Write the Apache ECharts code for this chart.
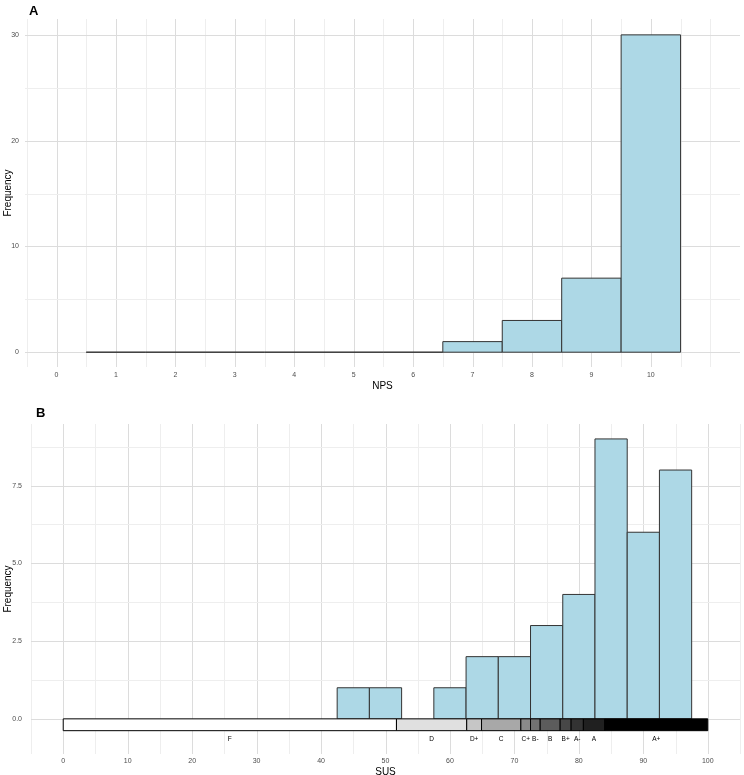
<!DOCTYPE html>
<html>
<head>
<meta charset="utf-8">
<script src="https://cdn.jsdelivr.net/npm/echarts@6/dist/echarts.min.js"></script>
<style>
  html, body { margin: 0; padding: 0; background: #fff; }
  #chart { width: 744px; height: 775px; }
</style>
</head>
<body>
<div id="chart"></div>
<script>
// Panel A: NPS histogram (bins centred on integer scores)
const npsScores = [1, 2, 3, 4, 5, 6, 7, 8, 9, 10];
const npsCounts = [0, 0, 0, 0, 0, 0, 1, 3, 7, 30];
const npsTicks = [0, 1, 2, 3, 4, 5, 6, 7, 8, 9, 10];
const npsFreqTicks = [0, 10, 20, 30];

// Panel B: SUS histogram (bin width 5)
const susBinStart = [42.5, 47.5, 57.5, 62.5, 67.5, 72.5, 77.5, 82.5, 87.5, 92.5];
const susCounts = [1, 1, 1, 2, 2, 3, 4, 9, 6, 8];
const susTicks = [0, 10, 20, 30, 40, 50, 60, 70, 80, 90, 100];
const susFreqTicks = [0, 2.5, 5, 7.5];

// SUS grading scale under the histogram
const gradeLabels = ["F", "D", "D+", "C", "C+", "B-", "B", "B+", "A-", "A", "A+"];
const gradeFrom = [0, 51.7, 62.6, 64.9, 71.0, 72.5, 74.0, 77.1, 78.8, 80.7, 84.0];
const gradeTo = [51.7, 62.6, 64.9, 71.0, 72.5, 74.0, 77.1, 78.8, 80.7, 84.0, 100];

const gradeShades = ["#ffffff", "#e0e0e0", "#c6c6c6", "#a8a8a8", "#8a8a8a", "#727272",
  "#5c5c5c", "#474747", "#333333", "#202020", "#000000"];

const FONT = "Liberation Sans, Arial, sans-serif";
const BAR_FILL = "#add8e6";
const BAR_EDGE = "#333333";

const chart = echarts.init(document.getElementById("chart"));

// gridline helpers: major lines at the ticks, minor lines halfway between
function withMinor(ticks, step, lo, hi) {
  const out = [];
  for (let v = lo; v <= hi + 1e-9; v += step / 2) {
    const major = ticks.some((t) => Math.abs(t - v) < 1e-9);
    out.push([Math.round(v * 1000) / 1000, major ? 1 : 0]);
  }
  return out;
}

function gridSeries(idx, dir, data) {
  return {
    type: "custom",
    xAxisIndex: idx,
    yAxisIndex: idx,
    silent: true,
    z: 1,
    data: data,
    renderItem: function (params, api) {
      const cs = params.coordSys;
      const v = api.value(0);
      const major = api.value(1) === 1;
      let shape;
      if (dir === "x") {
        const x = Math.round(api.coord([v, 0])[0]) + 0.5;
        shape = { x1: x, y1: cs.y, x2: x, y2: cs.y + cs.height };
      } else {
        const y = Math.round(api.coord([0, v])[1]) + 0.5;
        shape = { x1: cs.x, y1: y, x2: cs.x + cs.width, y2: y };
      }
      return {
        type: "line",
        shape: shape,
        style: { stroke: major ? "#dcdcdc" : "#eeeeee", lineWidth: 1 },
      };
    },
  };
}

function histItem(params, api) {
  const p0 = api.coord([api.value(0), api.value(2)]);
  const p1 = api.coord([api.value(1), 0]);
  return {
    type: "rect",
    shape: { x: p0[0], y: p0[1], width: p1[0] - p0[0], height: p1[1] - p0[1] },
    style: { fill: BAR_FILL, stroke: BAR_EDGE, lineWidth: 1 },
  };
}

const npsData = npsScores.map((s, i) => [s - 0.5, s + 0.5, npsCounts[i]]);
const susData = susBinStart.map((s, i) => [s, s + 5, susCounts[i]]);
const gradeData = gradeLabels.map((g, i) => [gradeFrom[i], gradeTo[i], i]);

const tickLabel = { color: "#4d4d4d", fontSize: 7, fontFamily: FONT };
const axisTitle = { color: "#000", fontSize: 10, fontFamily: FONT };

function valueAxis(extra) {
  return Object.assign(
    {
      type: "value",
      axisLine: { show: false },
      axisTick: { show: false },
      splitLine: { show: false },
      nameLocation: "middle",
      nameMoveOverlap: false,
      nameTextStyle: axisTitle,
    },
    extra
  );
}

chart.setOption({
  animation: false,
  backgroundColor: "#fff",
  title: [
    { text: "A", left: 24, top: 0, textStyle: { fontSize: 13, fontWeight: "bold", fontFamily: FONT, color: "#000" } },
    { text: "B", left: 31, top: 402, textStyle: { fontSize: 13, fontWeight: "bold", fontFamily: FONT, color: "#000" } },
  ],
  grid: [
    { left: 25, top: 19, width: 715, height: 348, containLabel: false, outerBoundsMode: "none" },
    { left: 31, top: 424, width: 709, height: 330, containLabel: false, outerBoundsMode: "none" },
  ],
  xAxis: [
    valueAxis({
      gridIndex: 0, min: -0.53, max: 11.5, name: "NPS", nameGap: 14,
      axisLabel: Object.assign({ customValues: npsTicks, margin: 5 }, tickLabel),
    }),
    valueAxis({
      gridIndex: 1, min: -5, max: 105, name: "SUS", nameGap: 13,
      axisLabel: Object.assign({ customValues: susTicks, margin: 4 }, tickLabel),
    }),
  ],
  yAxis: [
    valueAxis({
      gridIndex: 0, min: -1.4, max: 31.5, name: "Frequency", nameGap: 12,
      axisLabel: Object.assign({ customValues: npsFreqTicks, margin: 6 }, tickLabel),
    }),
    valueAxis({
      gridIndex: 1, min: -1.13, max: 9.48, name: "Frequency", nameGap: 18,
      axisLabel: Object.assign({
        customValues: susFreqTicks, margin: 9,
        formatter: (v) => v.toFixed(1),
      }, tickLabel),
    }),
  ],
  series: [
    gridSeries(0, "x", withMinor(npsTicks, 1, -0.5, 11)),
    gridSeries(0, "y", withMinor(npsFreqTicks, 10, 0, 30)),
    gridSeries(1, "x", withMinor(susTicks, 10, -5, 105)),
    gridSeries(1, "y", withMinor(susFreqTicks, 2.5, 0, 8.75)),
    {
      type: "custom",
      xAxisIndex: 0,
      yAxisIndex: 0,
      z: 2,
      data: npsData,
      renderItem: histItem,
    },
    {
      type: "custom",
      xAxisIndex: 1,
      yAxisIndex: 1,
      z: 2,
      data: susData,
      renderItem: histItem,
    },
    {
      type: "custom",
      xAxisIndex: 1,
      yAxisIndex: 1,
      z: 3,
      data: gradeData,
      renderItem: function (params, api) {
        const i = api.value(2);
        const p0 = api.coord([api.value(0), 0]);
        const p1 = api.coord([api.value(1), -0.38]);
        const lp = api.coord([(api.value(0) + api.value(1)) / 2, -0.65]);
        return {
          type: "group",
          children: [
            {
              type: "rect",
              shape: { x: p0[0], y: p0[1], width: p1[0] - p0[0], height: p1[1] - p0[1] },
              style: { fill: gradeShades[i], stroke: "#000", lineWidth: 1 },
            },
            {
              type: "text",
              x: lp[0],
              y: lp[1],
              style: {
                text: gradeLabels[i], fontSize: 6.5, fontFamily: FONT, fill: "#000",
                align: "center", verticalAlign: "middle",
              },
            },
          ],
        };
      },
    },
  ],
});
</script>
</body>
</html>
